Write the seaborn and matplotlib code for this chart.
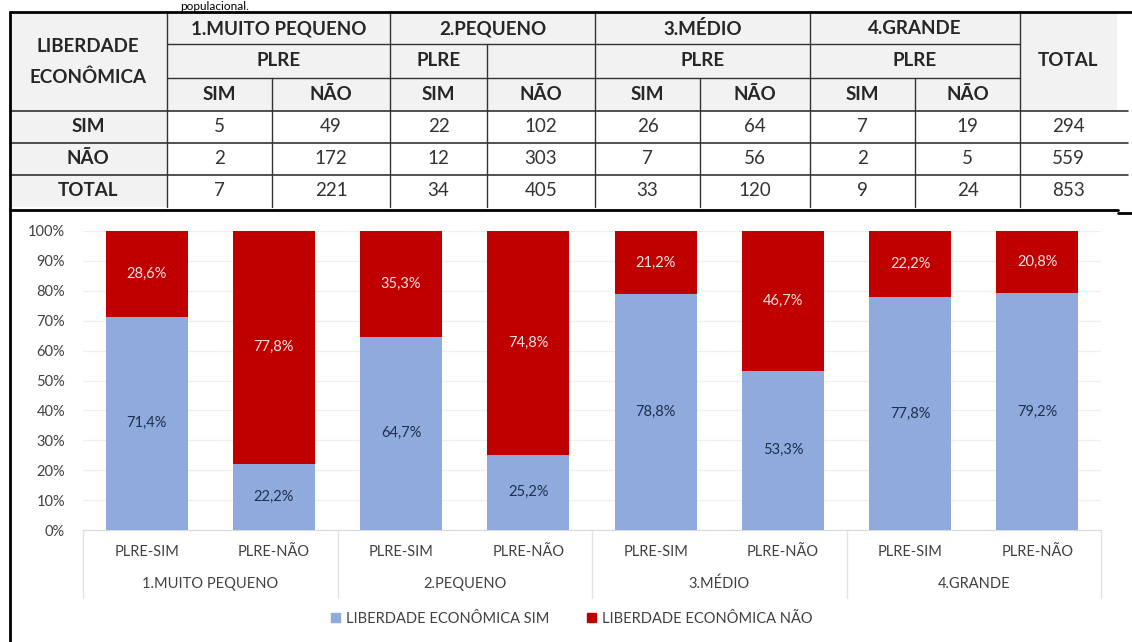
import matplotlib
matplotlib.use('Agg')
import matplotlib.pyplot as plt
from matplotlib.patches import Patch, Rectangle
import pandas as pd
import seaborn as sns

# ---- data -------------------------------------------------------------
groups = ['1.MUITO PEQUENO', '2.PEQUENO', '3.MÉDIO', '4.GRANDE']
plre = ['PLRE-SIM', 'PLRE-NÃO']
sim_pct = [71.4, 22.2, 64.7, 25.2, 78.8, 53.3, 77.8, 79.2]   # liberdade econ. SIM
nao_pct = [28.6, 77.8, 35.3, 74.8, 21.2, 46.7, 22.2, 20.8]   # liberdade econ. NÃO

# contingency table (SIM / NÃO / TOTAL rows)
row_labels = ['SIM', 'NÃO', 'TOTAL']
counts_sim = [5, 49, 22, 102, 26, 64, 7, 19, 294]
counts_nao = [2, 172, 12, 303, 7, 56, 2, 5, 559]
counts_tot = [7, 221, 34, 405, 33, 120, 9, 24, 853]

BLUE = '#8faadc'
RED = '#c00000'
FONT = ['Lato', 'DejaVu Sans']

sns.set_style('white')
plt.rcParams['font.family'] = FONT

W, H = 1132, 642
fig = plt.figure(figsize=(W / 100, H / 100), dpi=100)

# pixel overlay for table, frames, group labels
ov = fig.add_axes([0, 0, 1, 1])
ov.set_xlim(0, W)
ov.set_ylim(H, 0)
ov.axis('off')

# chart axes
x0, x1, y0, y1 = 83, 1101, 231, 530
ax = fig.add_axes([x0 / W, 1 - y1 / H, (x1 - x0) / W, (y1 - y0) / H])

cols = [f'{g}|{p}' for g in groups for p in plre]
df = pd.DataFrame({'col': cols, 'sim': sim_pct, 'nao': nao_pct})
df['total'] = df['sim'] + df['nao']

sns.barplot(data=df, x='col', y='total', order=cols, color=RED,
            width=0.645, saturation=1, linewidth=0, ax=ax, zorder=2)
sns.barplot(data=df, x='col', y='sim', order=cols, color=BLUE,
            width=0.645, saturation=1, linewidth=0, ax=ax, zorder=3)

ax.set_ylim(0, 100)
ax.set_xlim(-0.5, len(cols) - 0.5)
ax.set_yticks(range(0, 101, 10))
ax.set_yticklabels([f'{v}%' for v in range(0, 101, 10)])
ax.set_xticks(range(len(cols)))
ax.set_xticklabels([c.split('|')[1] for c in cols])
ax.tick_params(axis='y', length=0, pad=13, labelsize=10.5, labelcolor='#404040')
ax.tick_params(axis='x', length=0, pad=11, labelsize=10.5, labelcolor='#404040')
ax.set_xlabel('')
ax.set_ylabel('')
ax.grid(axis='y', color='#efefef', lw=0.9, zorder=0)
ax.set_axisbelow(True)
for s in ['top', 'right', 'left']:
    ax.spines[s].set_visible(False)
ax.spines['bottom'].set_color('#d9d9d9')

for i, (s, n) in enumerate(zip(sim_pct, nao_pct)):
    ax.text(i, s / 2, f'{s:.1f}'.replace('.', ',') + '%', ha='center', va='center',
            fontsize=10.5, color='#1f2f4f', zorder=5)
    ax.text(i, s + n / 2, f'{n:.1f}'.replace('.', ',') + '%', ha='center', va='center',
            fontsize=10.5, color='#f6e3e3', zorder=5)

# group labels + separators under the axis
slot = (x1 - x0) / len(cols)
for k, g in enumerate(groups):
    ov.text(x0 + slot * (2 * k + 1), 584, g, ha='center', va='center',
            fontsize=10.5, color='#404040')
for k in range(len(groups) + 1):
    xs = x0 + slot * 2 * k
    ov.plot([xs, xs], [530, 598], color='#e3e3e3', lw=1)

handles = [Patch(color=BLUE, label='LIBERDADE ECONÔMICA SIM'),
           Patch(color=RED, label='LIBERDADE ECONÔMICA NÃO')]
fig.legend(handles=handles, loc='center', bbox_to_anchor=(572 / W, 1 - 619 / H),
           ncol=2, frameon=False, fontsize=10.5, handlelength=0.6, handleheight=0.6,
           handletextpad=0.4, columnspacing=2.6, labelcolor='#404040')

# ---- table ------------------------------------------------------------
cx = [10, 167, 272, 390, 487, 595, 700, 810, 915, 1020, 1117]
ry = [12, 44, 78, 111, 143, 175, 207]
GRAY = '#f2f2f2'
LINE = '#333333'

ov.add_patch(Rectangle((10, 12), 1107, 99, color=GRAY, lw=0))
ov.add_patch(Rectangle((10, 111), 157, 96, color=GRAY, lw=0))

# horizontal lines
ov.plot([167, 1020], [44, 44], color=LINE, lw=1)
ov.plot([167, 1020], [78, 78], color=LINE, lw=1)
for y in ry[3:6]:
    ov.plot([10, 1128], [y, y], color=LINE, lw=1.2)
# vertical lines
for x in [167, 390, 595, 810, 1020]:
    ov.plot([x, x], [12, 207], color=LINE, lw=1)
for x in [272, 700, 915]:
    ov.plot([x, x], [78, 207], color=LINE, lw=1)
ov.plot([487, 487], [44, 207], color=LINE, lw=1)

# frame
ov.plot([10, 1132], [12, 12], color='black', lw=2)
ov.plot([10, 10], [12, 642], color='black', lw=2)
ov.plot([10, 1118], [210, 210], color='black', lw=2)
ov.plot([1118, 1132], [213, 213], color='black', lw=2)

# header texts
hb = dict(ha='center', va='center', fontsize=13.5, fontweight='bold', color='#262626')
ov.text(88, 47, 'LIBERDADE', **hb)
ov.text(88, 77, 'ECONÔMICA', **hb)
for k, g in enumerate(groups):
    ov.text((cx[1 + 2 * k] + cx[3 + 2 * k]) / 2, 29, g, **hb)
    if k == 1:
        ov.text((cx[3] + cx[4]) / 2, 61, 'PLRE', **hb)
    else:
        ov.text((cx[1 + 2 * k] + cx[3 + 2 * k]) / 2, 61, 'PLRE', **hb)
    ov.text((cx[1 + 2 * k] + cx[2 + 2 * k]) / 2, 95, 'SIM', **hb)
    ov.text((cx[2 + 2 * k] + cx[3 + 2 * k]) / 2, 95, 'NÃO', **hb)
ov.text(1068, 61, 'TOTAL', **hb)

# body
for r, (lab, vals) in enumerate(zip(row_labels, [counts_sim, counts_nao, counts_tot])):
    yc = (ry[3 + r] + ry[4 + r]) / 2
    ov.text(88, yc, lab, **hb)
    for j, v in enumerate(vals):
        ov.text((cx[1 + j] + cx[2 + j]) / 2, yc, str(v), ha='center', va='center',
                fontsize=13.5, color='#333333')

# title fragment above the table (kept small so it fits above the frame)
ov.text(180, 0.5, 'populacional.', ha='left', va='top', fontsize=8.5, color='black')

fig.savefig('out.png', dpi=100)
